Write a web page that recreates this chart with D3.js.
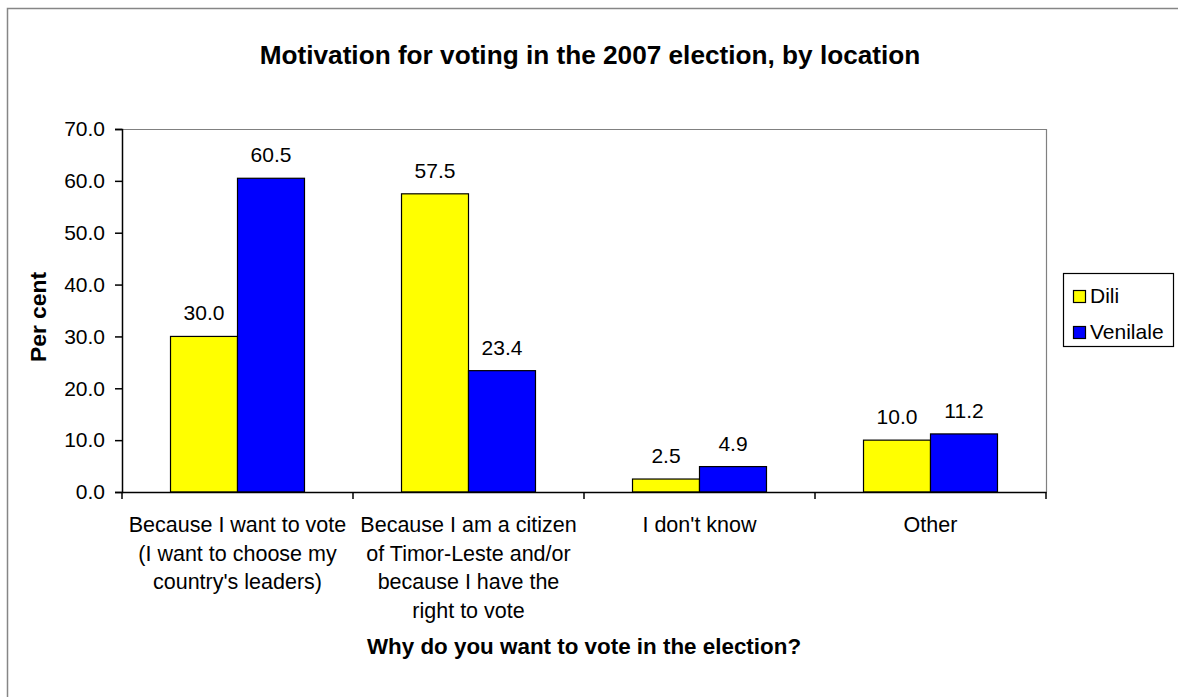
<!DOCTYPE html>
<html>
<head>
<meta charset="utf-8">
<script src="https://cdn.jsdelivr.net/npm/d3@7"></script>
<style>
  html, body { margin: 0; padding: 0; background: #fff; }
  svg { display: block; font-family: "Liberation Sans", Arial, sans-serif; }
</style>
</head>
<body>
<svg id="chart" width="1178" height="697"></svg>
<script>
const categories = ["Because I want to vote", "Because I am a citizen", "I don't know", "Other"];
const categoryLines = [
  ["Because I want to vote", "(I want to choose my", "country's leaders)"],
  ["Because I am a citizen", "of Timor-Leste and/or", "because I have the", "right to vote"],
  ["I don't know"],
  ["Other"]
];
const seriesNames = ["Dili", "Venilale"];
const diliValues = [30.0, 57.5, 2.5, 10.0];
const venilaleValues = [60.5, 23.4, 4.9, 11.2];
const seriesColors = ["#FFFF00", "#0000FF"];
const yTicks = [0, 10, 20, 30, 40, 50, 60, 70];
const chartTitle = "Motivation for voting in the 2007 election, by location";
const xTitle = "Why do you want to vote in the election?";
const yTitle = "Per cent";

const seriesValues = [diliValues, venilaleValues];

const svg = d3.select("#chart");
const plot = { left: 122, right: 1046, top: 129, bottom: 492 };

// outer chart border
svg.append("rect")
  .attr("x", 7.5).attr("y", 8.5)
  .attr("width", 1200).attr("height", 720)
  .attr("fill", "#fff").attr("stroke", "#868686").attr("stroke-width", 1.5);

const x0 = d3.scaleBand().domain(categories).range([plot.left, plot.right]).padding(0);
const gapFrac = 0.21;
const x1 = d3.scaleBand().domain(seriesNames)
  .range([x0.bandwidth() * gapFrac, x0.bandwidth() * (1 - gapFrac)]).padding(0);
const y = d3.scaleLinear().domain([0, 70]).range([plot.bottom, plot.top]);

// plot area border (top & right gray)
svg.append("path")
  .attr("d", `M${plot.left},${plot.top + 0.5}H${plot.right + 0.5}V${plot.bottom}`)
  .attr("fill", "none").attr("stroke", "#808080").attr("stroke-width", 1.2);

// bars
const groups = svg.append("g").selectAll("g")
  .data(categories).join("g")
  .attr("transform", d => `translate(${x0(d)},0)`);

groups.selectAll("rect")
  .data((d, i) => seriesNames.map((s, j) => ({ s, j, v: seriesValues[j][i] })))
  .join("rect")
  .attr("x", d => x1(d.s))
  .attr("y", d => y(d.v))
  .attr("width", x1.bandwidth())
  .attr("height", d => y(0) - y(d.v))
  .attr("fill", d => seriesColors[d.j])
  .attr("stroke", "#000").attr("stroke-width", 1.2);

groups.selectAll("text.val")
  .data((d, i) => seriesNames.map((s, j) => ({ s, j, v: seriesValues[j][i] })))
  .join("text").attr("class", "val")
  .attr("x", d => x1(d.s) + x1.bandwidth() / 2)
  .attr("y", d => y(d.v) - 16)
  .attr("text-anchor", "middle")
  .attr("font-size", 21)
  .attr("fill", "#000")
  .text(d => d3.format(".1f")(d.v));

// y axis
const yAxis = d3.axisLeft(y).tickValues(yTicks).tickFormat(d3.format(".1f")).tickSizeOuter(0).tickSize(7).tickPadding(10);
const gy = svg.append("g").attr("transform", `translate(${plot.left},0)`).call(yAxis);
gy.select(".domain").attr("stroke", "#000").attr("stroke-width", 1.5);
gy.selectAll(".tick line").attr("stroke", "#000").attr("stroke-width", 1.5);
gy.selectAll(".tick text").attr("font-size", 21).attr("fill", "#000")
  .attr("font-family", "Liberation Sans, Arial, sans-serif");

// x axis
const xAxis = d3.axisBottom(x0).tickValues([]).tickSizeOuter(0);
const gx = svg.append("g").attr("transform", `translate(0,${plot.bottom})`).call(xAxis);
gx.select(".domain").attr("stroke", "#000").attr("stroke-width", 1.5);
const tickPositions = categories.map(c => x0(c)).concat([x0(categories[categories.length - 1]) + x0.bandwidth()]);
gx.selectAll("line.cattick").data(tickPositions).join("line").attr("class", "cattick")
  .attr("x1", d => d).attr("x2", d => d).attr("y1", 0).attr("y2", 7)
  .attr("stroke", "#000").attr("stroke-width", 1.5);

// category labels
const catText = svg.append("g").selectAll("text")
  .data(categories).join("text")
  .attr("x", d => x0(d) + x0.bandwidth() / 2)
  .attr("y", 532)
  .attr("text-anchor", "middle")
  .attr("font-size", 21.5)
  .attr("fill", "#000");
catText.each(function(d, i) {
  d3.select(this).selectAll("tspan").data(categoryLines[i]).join("tspan")
    .attr("x", x0(d) + x0.bandwidth() / 2)
    .attr("dy", (t, k) => k === 0 ? 0 : 28.7)
    .text(t => t);
});

// title
svg.append("text")
  .attr("x", 590).attr("y", 64)
  .attr("text-anchor", "middle")
  .attr("font-size", 26.2).attr("font-weight", "bold")
  .text(chartTitle);

// axis titles
svg.append("text")
  .attr("x", (plot.left + plot.right) / 2).attr("y", 654)
  .attr("text-anchor", "middle")
  .attr("font-size", 22.4).attr("font-weight", "bold")
  .text(xTitle);

svg.append("text")
  .attr("transform", `translate(46,317) rotate(-90)`)
  .attr("text-anchor", "middle")
  .attr("font-size", 22.8).attr("font-weight", "bold")
  .text(yTitle);

// legend
const legend = svg.append("g");
legend.append("rect")
  .attr("x", 1063.5).attr("y", 273.5).attr("width", 110).attr("height", 73)
  .attr("fill", "#fff").attr("stroke", "#000").attr("stroke-width", 1.2);
const li = legend.selectAll("g.item").data(seriesNames).join("g").attr("class", "item")
  .attr("transform", (d, i) => `translate(1073,${290 + i * 36})`);
li.append("rect").attr("x", 0.5).attr("y", 0.5).attr("width", 12).attr("height", 12)
  .attr("fill", (d, i) => seriesColors[i]).attr("stroke", "#000").attr("stroke-width", 1.2);
li.append("text").attr("x", 17).attr("y", 12.5)
  .attr("font-size", 21).attr("fill", "#000")
  .text(d => d);
</script>
</body>
</html>
